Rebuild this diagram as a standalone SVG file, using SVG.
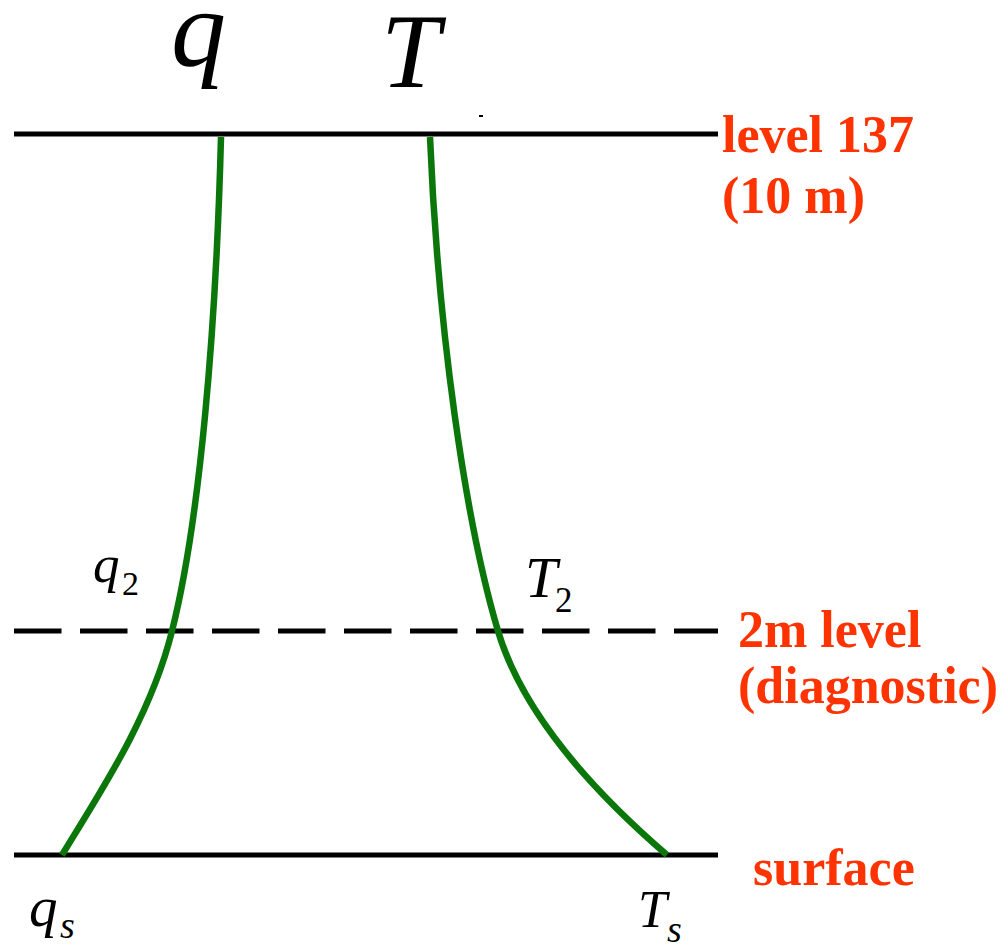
<svg xmlns="http://www.w3.org/2000/svg" width="1005" height="947" viewBox="0 0 1005 947">
<style>
.lvl{stroke:#000;stroke-width:5;fill:none}
.dash{stroke-dasharray:47.5 18.5}
.prof{stroke:#0b770b;stroke-width:6.5;fill:none;stroke-linecap:butt}
.var{font-family:"Liberation Serif",serif;font-style:italic;fill:#000}
.sub{font-family:"Liberation Serif",serif;fill:#000}
.subi{font-family:"Liberation Serif",serif;font-style:italic;fill:#000}
.lab{font-family:"Liberation Serif",serif;font-weight:bold;fill:#ff3300;font-size:52px}
</style>
<rect width="1005" height="947" fill="#fff"/>
<g id="levels">
<line class="lvl" x1="14" y1="134" x2="718" y2="134"/>
<line class="lvl dash" x1="14" y1="631" x2="718" y2="631"/>
<line class="lvl" x1="14" y1="855" x2="718" y2="855"/>
<rect x="479" y="115" width="4" height="2" fill="#000"/>
</g>
<g id="connectors">
<path id="q-profile" class="prof" d="M221,137 C216,330 200,520 172,631 C150,720 95,800 62,855"/>
<path id="T-profile" class="prof" d="M430,137 C438,330 465,520 498,631 C520,705 580,780 667,855"/>
</g>
<g id="q-label"><text class="var" x="171" y="66" font-size="110">q</text></g>
<g id="T-label"><text class="var" x="381" y="87" font-size="106">T</text></g>
<g id="level137-label">
<text class="lab" x="722" y="152">level 137</text>
<text class="lab" x="722" y="213">(10 m)</text>
</g>
<g id="level2m-label">
<text class="lab" x="738" y="647">2m level</text>
<text class="lab" x="738" y="703">(diagnostic)</text>
</g>
<g id="surface-label"><text class="lab" x="753" y="885">surface</text></g>
<g id="q2-label"><text class="var" x="93" y="582" font-size="53">q</text><text class="sub" x="122" y="595" font-size="34">2</text></g>
<g id="T2-label"><text class="var" x="525" y="597" font-size="58">T</text><text class="sub" x="555" y="612" font-size="35">2</text></g>
<g id="qs-label"><text class="var" x="29" y="926" font-size="57">q</text><text class="subi" x="60" y="938" font-size="38">s</text></g>
<g id="Ts-label"><text class="var" x="638" y="927" font-size="52">T</text><text class="subi" x="667" y="942" font-size="38">s</text></g>
</svg>
